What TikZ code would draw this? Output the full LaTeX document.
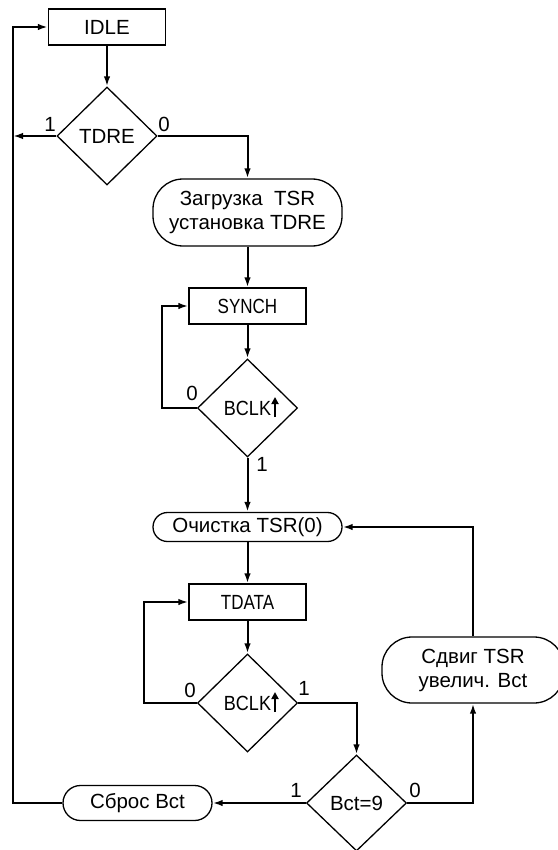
\documentclass[tikz,border=0pt]{standalone}
\usepackage{fontspec}
\usepackage{graphicx}
\setmainfont{Liberation Sans}
\usetikzlibrary{shapes.geometric,arrows.meta}

\newcommand{\narrow}[2][0.83]{\scalebox{#1}[1]{#2}}

\begin{document}
\begin{tikzpicture}[x=1pt,y=-1pt,
  every node/.style={font=\fontsize{20.5}{24}\selectfont},
  box/.style={draw,line width=1.3pt,inner sep=0pt,minimum width=117pt,minimum height=36pt},
  term/.style={draw,line width=1.3pt,inner sep=0pt,align=center},
  cond/.style={draw,diamond,line width=1.3pt,inner sep=0pt,minimum width=100pt,minimum height=98pt},
  flow/.style={line width=2pt,-{Latex[length=10pt,width=6.5pt]}},
  risearrow/.style={line width=2pt,-{Triangle[length=7pt,width=7pt]}},
  lbl/.style={inner sep=0pt}
]
\useasboundingbox (0,0) rectangle (557,850);

% states and actions
\node[box] (idle) at (107,27) {IDLE};
\node[cond] (tdre) at (107,136) {TDRE};
\node[term,minimum width=189pt,minimum height=67pt,rounded corners=30pt] (load) at (247.5,212.5)
  {Загрузка\ \ TSR\\установка TDRE};
\node[box] (synch) at (247.5,306) {\narrow{SYNCH}};
\node[cond] (bclka) at (247.5,408) {\narrow[0.88]{BCLK}\hspace{12pt}};
\node[term,minimum width=189pt,minimum height=29pt,rounded corners=14.5pt] (clr) at (247.5,527)
  {Очистка TSR(0)};
\node[box] (tdata) at (247.5,602) {\narrow{TDATA}};
\node[cond] (bclkb) at (247.5,703) {\narrow[0.88]{BCLK}\hspace{12pt}};
\node[cond,minimum height=96pt] (bct) at (356.5,803) {Bct=9};
\node[term,minimum width=182pt,minimum height=66pt,rounded corners=30pt] (shift) at (473,670)
  {Сдвиг TSR\\увелич. Bct};
\node[term,minimum width=149pt,minimum height=35pt,rounded corners=17.5pt] (rst) at (137.5,803)
  {Сброс Bct};

% rising-edge marks after BCLK
\draw[risearrow] ([shift={(27.5,9)}]bclka.center) -- ++(0,-20);
\draw[risearrow] ([shift={(27.5,9)}]bclkb.center) -- ++(0,-20);

% return rail on the left
\coordinate (rail) at (13,803);

% connectors
\draw[flow] (idle) -- (tdre);
\draw[flow] (tdre.west) -- (tdre.west -| rail);
\draw[flow] (tdre.east) -| (load.north);
\draw[flow] (load) -- (synch);
\draw[flow] (synch) -- (bclka);
\draw[flow] (bclka.west) -- ++(-35,0) |- (synch.west);
\draw[flow] (bclka) -- (clr);
\draw[flow] (clr) -- (tdata);
\draw[flow] (tdata) -- (bclkb);
\draw[flow] (bclkb.west) -- ++(-53,0) |- (tdata.west);
\draw[flow] (bclkb.east) -| (bct.north);
\draw[flow] (bct.east) -| (shift.south);
\draw[flow] (shift.north) |- (clr.east);
\draw[flow] (bct.west) -- (rst.east);
\draw[flow] (rst.west) -- (rail) |- (idle.west);

% branch labels
\node[lbl] at (50,124) {1};
\node[lbl] at (164,124) {0};
\node[lbl] at (192,393) {0};
\node[lbl] at (262,464) {1};
\node[lbl] at (190,690) {0};
\node[lbl] at (304,688) {1};
\node[lbl] at (296,790) {1};
\node[lbl] at (415,790) {0};
\end{tikzpicture}
\end{document}
